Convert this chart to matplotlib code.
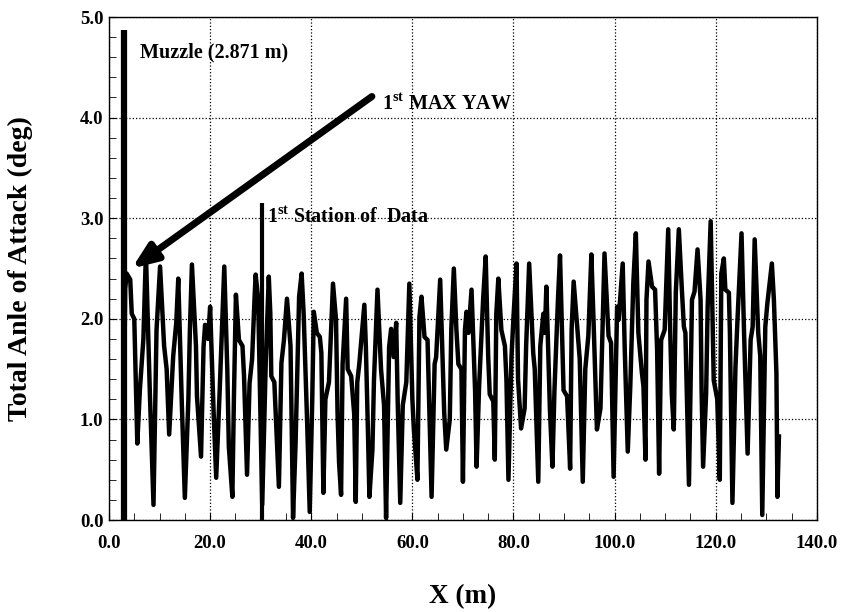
import numpy as np
import matplotlib
matplotlib.use("Agg")
import matplotlib.pyplot as plt
from matplotlib.ticker import MultipleLocator

plt.rcParams['font.family'] = ['Liberation Serif', 'DejaVu Serif']
plt.rcParams['font.weight'] = 'bold'
plt.rcParams['mathtext.fontset'] = 'custom'
plt.rcParams['mathtext.rm'] = 'Liberation Serif:bold'
plt.rcParams['mathtext.bf'] = 'Liberation Serif:bold'

# total angle of attack vs range (rows kept aligned)
x_m = [3.0, 3.2, 3.5, 4.2, 4.5, 5.0, 5.6, 6.1, 6.8, 7.3,
       8.1, 8.8, 9.4, 10.1, 10.9, 11.4, 11.9, 12.7, 13.3, 13.7,
       14.4, 15.0, 15.7, 16.0, 16.4, 17.2, 17.4, 18.2, 18.7, 19.0,
       19.6, 20.0, 20.7, 21.2, 21.9, 22.8, 23.4, 23.7, 24.4, 24.7,
       25.1, 25.7, 26.4, 26.7, 27.3, 27.8, 28.3, 28.8, 29.0, 29.5,
       30.3, 31.0, 31.6, 31.9, 32.1, 32.7, 33.6, 34.1, 34.6, 35.2,
       35.9, 36.2, 36.4, 36.9, 37.6, 38.1, 38.5, 39.2, 39.7, 40.2,
       40.5, 41.1, 41.7, 42.0, 42.4, 42.8, 43.5, 44.3, 44.9, 45.2,
       45.5, 45.9, 46.2, 46.9, 47.2, 47.9, 48.5, 48.8, 49.1, 49.5,
       50.5, 50.8, 51.2, 51.5, 52.1, 52.4, 53.1, 53.8, 54.4, 54.8,
       55.4, 55.8, 56.3, 56.8, 57.1, 57.6, 58.1, 58.8, 59.4, 60.0,
       60.3, 61.0, 61.4, 61.8, 62.4, 63.0, 63.3, 63.8, 64.4, 64.7,
       65.5, 66.3, 66.7, 67.4, 67.7, 68.2, 68.7, 69.1, 69.7, 70.0,
       70.4, 70.7, 71.1, 71.7, 72.4, 72.7, 73.2, 74.0, 74.5, 75.0,
       75.3, 76.0, 76.3, 76.6, 77.0, 77.6, 78.3, 78.6, 79.0, 79.6,
       80.0, 80.6, 80.9, 81.5, 82.2, 82.5, 83.1, 83.9, 84.2, 84.9,
       85.3, 85.9, 86.2, 86.5, 87.2, 87.7, 88.1, 88.8, 89.2, 89.6,
       89.9, 90.6, 91.2, 91.5, 91.9, 92.5, 93.1, 93.7, 94.2, 94.8,
       95.4, 95.8, 96.2, 96.5, 97.2, 97.6, 98.0, 98.8, 99.3, 99.8,
       100.5, 100.8, 101.6, 102.0, 102.6, 103.1, 103.7, 104.2, 104.7, 105.4,
       105.7, 106.1, 106.3, 106.7, 107.4, 108.0, 108.4, 108.8, 109.2, 109.9,
       110.6, 111.0, 111.3, 111.7, 112.1, 112.7, 113.3, 113.7, 114.0, 114.7,
       115.3, 115.8, 116.4, 117.0, 117.2, 117.5, 118.1, 118.4, 119.0, 119.3,
       119.6, 120.3, 120.8, 121.1, 121.6, 121.9, 122.6, 122.8, 123.3, 123.9,
       124.3, 125.1, 125.6, 126.3, 126.9, 127.3, 127.7, 128.4, 128.8, 129.2,
       129.8, 130.2, 131.1, 131.5, 132.0, 132.2, 132.5]
aoa_deg = [1.3, 2.3, 2.45, 2.39, 2.05, 2.0, 0.76, 1.29, 1.8, 2.65,
           1.23, 0.15, 1.89, 2.52, 1.73, 1.5, 0.85, 1.63, 1.96, 2.4,
           1.16, 0.22, 1.2, 1.89, 2.54, 1.73, 1.23, 0.63, 1.72, 1.94,
           1.8, 2.12, 1.06, 0.42, 1.3, 2.52, 1.49, 0.73, 0.23, 1.2,
           2.24, 1.79, 1.73, 1.44, 0.45, 1.36, 1.6, 2.22, 2.44, 2.2,
           0.15, 1.56, 2.42, 2.06, 1.43, 1.37, 0.33, 1.56, 1.79, 2.2,
           1.73, 0.73, 0.02, 0.76, 2.22, 2.45, 2.05, 0.95, 0.08, 1.2,
           2.07, 1.86, 1.82, 1.66, 0.27, 1.2, 1.37, 2.35, 1.99, 1.06,
           0.57, 0.25, 1.55, 2.2, 1.5, 1.43, 1.05, 0.18, 1.37, 1.55,
           2.14, 1.73, 0.9, 0.23, 0.7, 1.38, 2.29, 1.5, 1.14, 0.02,
           1.72, 1.9, 1.62, 1.96, 1.17, 0.17, 1.14, 1.37, 2.35, 1.2,
           0.9, 0.4, 2.02, 2.22, 1.82, 1.79, 1.2, 0.23, 1.55, 1.62,
           2.39, 1.06, 0.7, 1.0, 1.9, 2.5, 1.9, 1.55, 1.5, 0.38,
           1.89, 2.07, 1.86, 2.29, 1.29, 0.53, 1.33, 2.2, 2.62, 1.62,
           1.25, 1.18, 0.6, 2.05, 2.4, 1.89, 1.73, 1.4, 0.4, 1.62,
           2.02, 2.55, 1.4, 0.91, 1.11, 1.73, 2.55, 1.66, 1.5, 0.38,
           1.73, 2.05, 1.86, 2.32, 1.1, 0.53, 1.29, 2.2, 2.63, 1.86,
           1.29, 1.23, 0.51, 1.9, 2.37, 1.98, 1.6, 0.38, 1.5, 1.83,
           2.64, 2.03, 1.38, 0.9, 1.11, 1.86, 2.65, 1.83, 1.76, 0.43,
           2.12, 1.99, 2.55, 1.7, 0.68, 1.33, 2.36, 2.85, 1.86, 1.46,
           1.33, 0.6, 2.19, 2.57, 2.32, 2.29, 1.7, 0.46, 1.79, 1.89,
           2.89, 1.86, 1.26, 0.9, 2.26, 2.89, 2.29, 1.92, 1.86, 0.35,
           2.19, 2.27, 2.69, 2.19, 1.29, 0.53, 1.26, 2.12, 2.97, 2.19,
           1.39, 1.2, 0.4, 2.45, 2.6, 2.29, 2.26, 1.86, 0.17, 1.52,
           1.99, 2.85, 1.86, 0.66, 1.79, 1.92, 2.79, 1.86, 1.63, 0.05,
           1.92, 2.15, 2.55, 2.19, 1.46, 0.23, 0.83]

muzzle_x = 2.871
station_x = 30.2

fig = plt.figure(figsize=(8.43, 6.12), dpi=100)
ax = fig.add_axes([0.1293, 0.1503, 0.8397, 0.8219])

ax.plot(x_m, aoa_deg, color='black', lw=3.2, solid_joinstyle='round')
ax.plot([muzzle_x, muzzle_x], [-0.1, 4.87], color='black', lw=4.5, solid_capstyle='butt')
ax.plot([station_x, station_x], [-0.1, 3.15], color='black', lw=3, solid_capstyle='butt')

ax.annotate('', xy=(4.5, 2.5), xytext=(52.0, 4.21),
            arrowprops=dict(arrowstyle='-|>,head_length=1.5,head_width=0.6',
                            lw=5, color='black', shrinkA=0, shrinkB=0))

ax.text(6.1, 4.65, 'Muzzle (2.871 m)', fontsize=14.5, fontweight='bold', va='center')
ax.text(54.0, 4.13, r'1$^{\rm st}$ MAX YAW', fontsize=14.5, fontweight='bold', va='center')
ax.text(31.3, 3.0, r'1$^{\rm st}$ Station of  Data', fontsize=14.5, fontweight='bold', va='center')

ax.set_xlim(0, 140)
ax.set_ylim(0, 5)
ax.xaxis.set_major_locator(MultipleLocator(20))
ax.xaxis.set_minor_locator(MultipleLocator(5))
ax.yaxis.set_major_locator(MultipleLocator(1))
ax.yaxis.set_minor_locator(MultipleLocator(0.2))
ax.xaxis.set_major_formatter(plt.FormatStrFormatter('%.1f'))
ax.yaxis.set_major_formatter(plt.FormatStrFormatter('%.1f'))
ax.tick_params(which='both', direction='in', labelsize=13.5)
ax.tick_params(which='major', length=5)
ax.tick_params(which='minor', length=5)
ax.tick_params(axis='x', which='major', pad=11)
ax.tick_params(axis='y', which='major', pad=4)
ax.grid(True, which='major', color='black', linestyle=':', lw=0.9)
ax.set_axisbelow(True)
for s in ax.spines.values():
    s.set_linewidth(1.0)

ax.set_xlabel('X (m)', fontsize=19.5, fontweight='bold')
ax.set_ylabel('Total Anle of Attack (deg)', fontsize=20, fontweight='bold')
ax.xaxis.set_label_coords(0.5, -0.127)
ax.yaxis.set_label_coords(-0.107, 0.5)

fig.savefig('out.png', dpi=100)
